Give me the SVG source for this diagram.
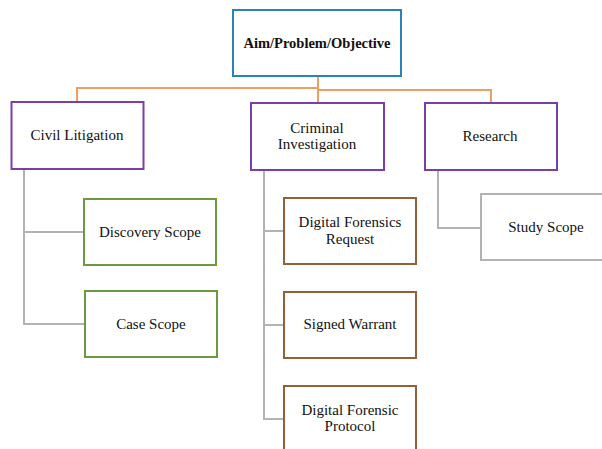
<svg xmlns="http://www.w3.org/2000/svg" width="602" height="449" viewBox="0 0 602 449">
<style>
rect{fill:#fff;stroke-width:2}
.top{stroke:#2a83b8}
.p{stroke:#7a3ea8}
.g{stroke:#6b9a45}
.b{stroke:#94603a}
.gr{stroke:#b3b3b3}
text{font-family:'Liberation Serif','Tinos','Times New Roman','Noto Serif','DejaVu Serif',serif;font-size:15px;fill:#111;text-anchor:middle}
.bold{font-weight:bold;font-size:14.5px}
.o{fill:none;stroke:#ef9e5f;stroke-width:2}
.l{fill:none;stroke:#b3b3b3;stroke-width:2}
</style>
<rect width="602" height="449" fill="#fff" stroke="none"/>
<g id="connectors">
<polyline class="o" points="318,76 318,103"/>
<polyline class="o" points="77,102 77,88 318,88"/>
<polyline class="o" points="318,90 491,90 491,103"/>
<polyline class="l" points="24,169 24,324 85,324"/>
<polyline class="l" points="24,232 84,232"/>
<polyline class="l" points="264,170 264,419 284,419"/>
<polyline class="l" points="264,231 284,231"/>
<polyline class="l" points="264,325 284,325"/>
<polyline class="l" points="438,170 438,228 481,228"/>
</g>
<g id="aim"><rect class="top" x="233" y="10" width="168" height="66"/><text class="bold" x="317" y="48">Aim/Problem/Objective</text></g>
<g id="civil"><rect class="p" x="11.5" y="102" width="132" height="67"/><text x="77" y="140">Civil Litigation</text></g>
<g id="criminal"><rect class="p" x="251" y="103" width="133" height="67"/><text x="317" y="133">Criminal</text><text x="317" y="149">Investigation</text></g>
<g id="research"><rect class="p" x="425" y="103" width="132" height="67"/><text x="490" y="141">Research</text></g>
<g id="discovery"><rect class="g" x="84" y="199" width="132" height="66"/><text x="150" y="237">Discovery Scope</text></g>
<g id="case"><rect class="g" x="85" y="291" width="132" height="66"/><text x="151" y="329">Case Scope</text></g>
<g id="dfrequest"><rect class="b" x="284" y="198" width="132" height="66"/><text x="350" y="227">Digital Forensics</text><text x="350" y="244">Request</text></g>
<g id="warrant"><rect class="b" x="284" y="292" width="132" height="66"/><text x="350" y="329">Signed Warrant</text></g>
<g id="protocol"><rect class="b" x="284" y="386" width="132" height="70"/><text x="350" y="415">Digital Forensic</text><text x="350" y="431">Protocol</text></g>
<g id="study"><rect class="gr" x="481" y="194" width="130" height="66"/><text x="546" y="232">Study Scope</text></g>
</svg>
